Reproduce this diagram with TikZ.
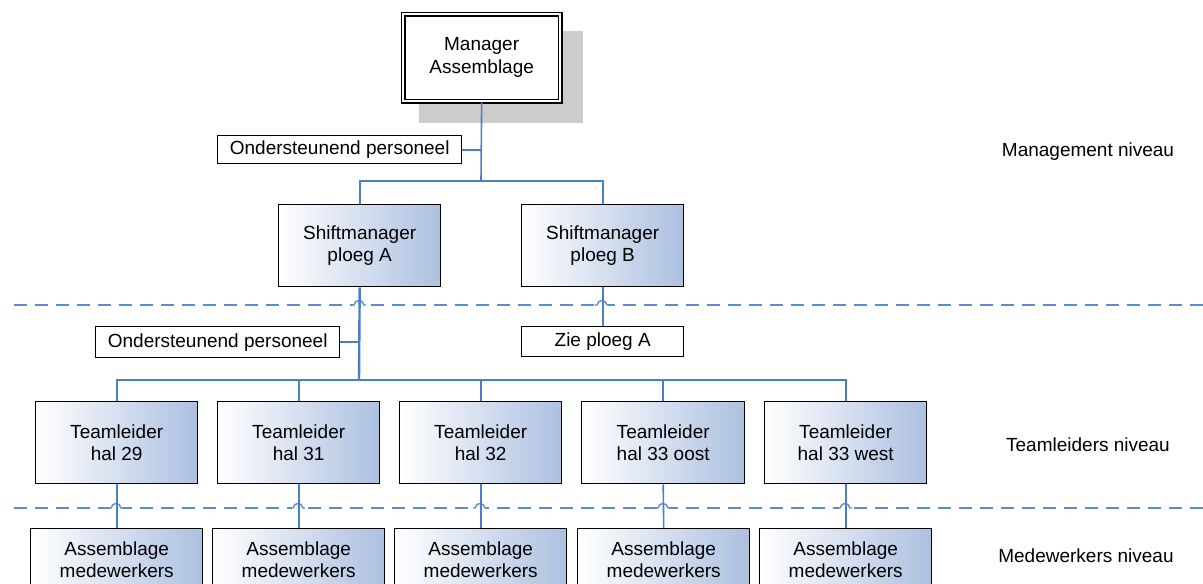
\documentclass[tikz,border=0pt]{standalone}
\usepackage{fontspec}
\setmainfont{Liberation Sans}
\definecolor{linkblue}{RGB}{74,126,201}
\definecolor{gradblue}{RGB}{172,192,224}
\definecolor{shadowgray}{RGB}{204,204,204}
\tikzset{
  role/.style={draw=black, line width=1.4pt, left color=white, right color=gradblue,
    minimum width=162pt, minimum height=82pt, inner sep=0pt, align=center, anchor=north west},
  worker/.style={role, minimum width=172pt, minimum height=62pt},
  tag/.style={draw=black, line width=1.4pt, fill=white, inner sep=0pt, align=center, anchor=north west},
  link/.style={draw=linkblue, line width=1.6pt},
  trunk/.style={draw=linkblue, line width=2.4pt},
  levelline/.style={draw=linkblue!90, line width=2pt, dash pattern=on 13pt off 8pt},
  hop/.style={draw=linkblue!90, line width=1.4pt},
  level/.style={anchor=center}
}
\newcommand{\hopat}[2]{%
  \fill[white] (#1-6,#2-2) rectangle (#1+6,#2+2);
  \draw[hop] (#1-7,#2) -- (#1-5,#2) .. controls (#1-4,#2-6) and (#1+4,#2-6) .. (#1+5,#2) -- (#1+7,#2);
}
\begin{document}
\begin{tikzpicture}[x=1pt, y=-1pt, font=\fontsize{19}{22.5}\selectfont]
\useasboundingbox (0,0) rectangle (1203,584);
\clip (0,0) rectangle (1203,584);

% level separators with hops where connectors cross
\draw[levelline] (14,305) -- (1203,305);
\draw[levelline] (14,508) -- (1203,508);
\foreach \x in {359,602} {\hopat{\x}{305}}
\foreach \x in {116,298,480,663,845} {\hopat{\x}{508}}

% top manager with shadow and double frame
\fill[shadowgray] (419,31) rectangle (583,123);
\node[draw=black, fill=white, line width=1.3pt, double, double distance=2.4pt,
  minimum width=157pt, minimum height=87pt, inner sep=0pt, align=center, anchor=north west]
  (mgr) at (402.5,13.5) {Manager\\Assemblage};

\node[tag, minimum width=244pt, minimum height=28pt] (sup1) at (217,135) {Ondersteunend personeel};

% shift managers
\node[role] (smA) at (278,204) {Shiftmanager\\ploeg A};
\node[role] (smB) at (521,204) {Shiftmanager\\ploeg B};

\node[tag, minimum width=244pt, minimum height=31pt] (sup2) at (95,326) {Ondersteunend personeel};
\node[tag, minimum width=162pt, minimum height=30pt] (zie) at (521,326) {Zie ploeg A};

% team leaders
\node[role] (t1) at (35,401) {Teamleider\\hal 29};
\node[role] (t2) at (217,401) {Teamleider\\hal 31};
\node[role] (t3) at (399,401) {Teamleider\\hal 32};
\node[role, minimum width=163pt] (t4) at (581,401) {Teamleider\\hal 33 oost};
\node[role] (t5) at (764,401) {Teamleider\\hal 33 west};

% workers
\node[worker] (w1) at (30,528) {Assemblage\\medewerkers};
\node[worker] (w2) at (212,528) {Assemblage\\medewerkers};
\node[worker] (w3) at (394,528) {Assemblage\\medewerkers};
\node[worker] (w4) at (577,528) {Assemblage\\medewerkers};
\node[worker] (w5) at (759,528) {Assemblage\\medewerkers};

% junctions
\coordinate (j1) at (481,181);
\coordinate (j2) at (359,380);

% connectors
\draw[link] (mgr.south) -- (j1);
\draw[link] (sup1.east) -- (sup1.east -| mgr.south);
\draw[link] (j1) -| (smA.north);
\draw[link] (j1) -| (smB.north);
\draw[trunk] (smA.south) -- (j2);
\draw[link] (sup2.east) -- (sup2.east -| smA.south);
\draw[link] (smB.south) -- (zie.north);
\foreach \t in {t1,t2,t3,t4,t5} {\draw[link] (j2) -| (\t.north);}
\draw[trunk] (j2) -- (j2 -| t1.north);
\draw[trunk] (j2) -- (j2 -| t5.north);
\foreach \t/\w in {t1/w1,t2/w2,t3/w3,t4/w4,t5/w5} {\draw[link] (\t.south) -- (\w.north);}

% level captions
\node[level] (lv1) at (1088,152) {Management niveau};
\node[level] (lv2) at (1088,445) {Teamleiders niveau};
\node[level] (lv3) at (1086,556) {Medewerkers niveau};
\end{tikzpicture}
\end{document}
